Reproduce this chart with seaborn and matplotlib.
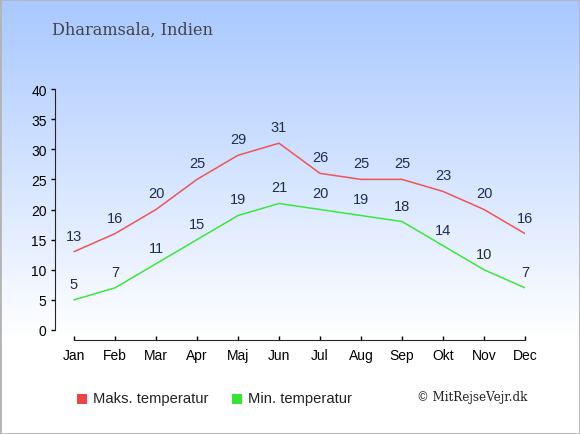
import matplotlib
matplotlib.use('Agg')
import matplotlib.pyplot as plt
import numpy as np
import pandas as pd
import seaborn as sns

months = ['Jan', 'Feb', 'Mar', 'Apr', 'Maj', 'Jun', 'Jul', 'Aug', 'Sep', 'Okt', 'Nov', 'Dec']
max_temp = [13, 16, 20, 25, 29, 31, 26, 25, 25, 23, 20, 16]
min_temp = [5, 7, 11, 15, 19, 21, 20, 19, 18, 14, 10, 7]

df = pd.DataFrame({'x': range(len(months)), 'maks': max_temp, 'min': min_temp})

sns.set_style('ticks')
plt.rcParams['font.family'] = ['Liberation Sans', 'DejaVu Sans']

fig = plt.figure(figsize=(5.8, 4.35), dpi=100)

# background gradient, light blue to white
bg = fig.add_axes([0, 0, 1, 1], zorder=-10)
grad = np.linspace(0, 1, 256)
top = np.array([168, 200, 255]) / 255
rgb = top + (1 - top) * np.clip(grad / 0.78, 0, 1)[:, None]
rgb = rgb.reshape(256, 1, 3)
bg.imshow(rgb, aspect='auto', extent=[0, 1, 0, 1], origin='upper')
bg.set_axis_off()
fig.patches.append(plt.Rectangle((0, 0), 1, 1, transform=fig.transFigure,
                                 fill=False, edgecolor='#b4b4b4', lw=2))

W, H = 580, 435
ax = fig.add_axes([55 / W, 1 - 341 / H, (525 - 55) / W, (341 - 90) / H])
ax.patch.set_alpha(0)

red = '#f05555'
green = '#3ce63c'
sns.lineplot(data=df, x='x', y='maks', ax=ax, color=red, lw=1.1)
sns.lineplot(data=df, x='x', y='min', ax=ax, color=green, lw=1.1)

for i in range(len(months)):
    ax.annotate(str(max_temp[i]), (i, max_temp[i]), xytext=(0, 6.5), textcoords='offset points',
                ha='center', va='bottom', fontsize=10.5, color='#1e2d50')
    ax.annotate(str(min_temp[i]), (i, min_temp[i]), xytext=(0, 6.5), textcoords='offset points',
                ha='center', va='bottom', fontsize=10.5, color='#1e2d50')

ax.set_xlim(-19 / 41, 11)
ax.set_ylim(-10 / 6.025, 40)
ax.set_xticks(range(len(months)))
ax.set_xticklabels(months)
ax.set_yticks(range(0, 41, 5))
ax.spines['top'].set_visible(False)
ax.spines['right'].set_visible(False)
ax.spines['left'].set_bounds(0, 40)
ax.spines['bottom'].set_bounds(0, 11)
ax.tick_params(axis='y', direction='out', length=3, width=1, labelsize=10, colors='black', pad=3)
ax.tick_params(axis='x', direction='in', length=3, width=1, labelsize=10, colors='black', pad=6)
ax.set_xlabel('')
ax.set_ylabel('')

fig.text(52 / W, 1 - 30 / H, 'Dharamsala, Indien', family='DejaVu Serif', fontsize=11.6,
         color='#444444', va='center', ha='left')

# legend
fig.patches.append(plt.Rectangle((77 / W, 1 - 405 / H), 10 / W, 10 / H, transform=fig.transFigure,
                                 facecolor='#ee4444', edgecolor='none'))
fig.patches.append(plt.Rectangle((232 / W, 1 - 405 / H), 10 / W, 10 / H, transform=fig.transFigure,
                                 facecolor='#33e633', edgecolor='none'))
fig.text(93 / W, 1 - 399 / H, 'Maks. temperatur', fontsize=10.6, color='#222222', va='center')
fig.text(248 / W, 1 - 399 / H, 'Min. temperatur', fontsize=10.6, color='#222222', va='center')
fig.text(527 / W, 1 - 398 / H, '\u00a9 MitRejseVejr.dk', family='DejaVu Serif', fontsize=8.6,
         color='#222222', va='center', ha='right')

fig.savefig('out.png', dpi=100)
